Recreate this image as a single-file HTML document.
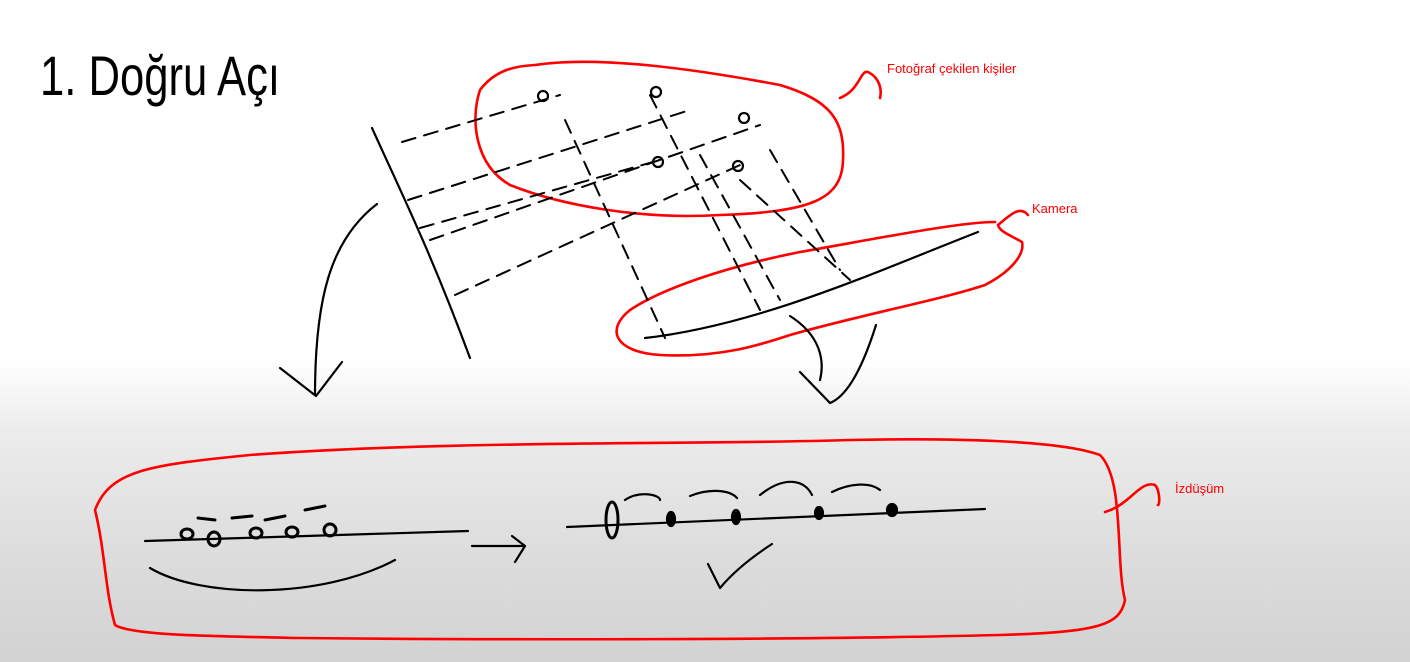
<!DOCTYPE html>
<html><head><meta charset="utf-8"><style>
html,body{margin:0;padding:0;width:1410px;height:662px;overflow:hidden;}
body{background:linear-gradient(to bottom,#fff 0px,#fff 360px,#ececec 430px,#dcdcdc 560px,#d2d2d2 662px);}
svg{position:absolute;left:0;top:0;}
.k{fill:none;stroke:#000;stroke-width:2.2;stroke-linecap:round;stroke-linejoin:round;}
.d{fill:none;stroke:#000;stroke-width:2;stroke-dasharray:14 9;stroke-linecap:round;}
.r{fill:none;stroke:#f00;stroke-width:2.6;stroke-linecap:round;stroke-linejoin:round;}
.t{font-family:"Liberation Sans",sans-serif;fill:#f00;font-size:13px;}
</style></head><body>
<svg width="1410" height="662">
<text x="40" y="95" font-family="Liberation Sans, sans-serif" font-size="56" fill="#000" textLength="240" lengthAdjust="spacingAndGlyphs">1. Doğru Açı</text>

<path class="r" d="M535 65 C600 55 700 70 780 85 C830 100 845 120 843 160 C842 200 810 212 720 215 C640 220 560 205 510 185 C475 165 470 120 480 90 C495 70 515 66 535 65 Z M840 98 C860 90 860 70 868 72 C880 78 882 90 880 98"/>
<text class="t" x="887" y="73">Fotoğraf çekilen kişiler</text>

<path class="r" d="M995 222 C960 222 880 238 800 252 C720 268 660 290 630 310 C605 330 615 352 660 355 C720 358 760 345 790 335 C860 315 940 300 985 285 C1010 272 1025 255 1022 242 C1010 235 1000 232 998 225 C1010 215 1020 205 1028 215"/>
<text class="t" x="1032" y="213">Kamera</text>

<path class="r" d="M95 510 C110 470 150 465 250 455 C450 440 700 445 850 440 C950 438 1060 440 1100 455 C1125 480 1115 560 1125 600 C1120 625 1100 632 1000 635 C800 640 500 640 300 638 C200 636 130 635 115 625 C105 590 105 550 95 510 Z M1105 512 C1130 505 1140 480 1155 485 C1160 490 1160 505 1158 505"/>
<text class="t" x="1175" y="493">İzdüşüm</text>

<path class="k" d="M372 128 C400 190 430 250 470 358"/>
<path class="d" d="M402 142 L560 95 M408 200 L690 110 M430 240 L760 125 M420 228 L660 160 M455 295 L740 165"/>
<path class="d" d="M565 120 L665 338 M650 95 L760 310 M700 155 L780 300 M740 180 L850 280 M770 150 L840 270"/>
<g class="k">
<circle cx="543" cy="96" r="5"/><circle cx="656" cy="92" r="5"/><circle cx="744" cy="118" r="5"/><circle cx="658" cy="162" r="5"/><circle cx="738" cy="166" r="5"/>
</g>
<path class="k" d="M645 338 C760 325 880 270 978 232"/>
<path class="k" d="M377 204 C330 240 315 300 315 395 M280 368 L316 396 L342 362"/>
<path class="k" d="M790 316 C820 335 825 360 820 380 M876 325 C865 360 850 395 830 403 L800 372"/>

<path class="k" d="M145 541 L468 531 M150 568 C200 598 320 600 395 560"/>
<g class="k" style="stroke-width:3">
<ellipse cx="187" cy="534" rx="6" ry="5"/><ellipse cx="214" cy="539" rx="6" ry="7"/><ellipse cx="256" cy="533" rx="6" ry="5"/><ellipse cx="292" cy="532" rx="6" ry="5"/><ellipse cx="330" cy="530" rx="6" ry="6"/>
<path d="M198 518 L215 520 M232 518 L252 516 M265 520 L285 516 M305 510 L325 506"/>
</g>
<path class="k" d="M472 546 L525 546 M512 536 L525 546 L515 562"/>
<path class="k" d="M567 527 L985 509"/>
<g class="k">
<ellipse cx="612" cy="520" rx="6" ry="18" style="stroke-width:3"/><ellipse cx="671" cy="519" rx="4" ry="7" fill="#000"/><ellipse cx="736" cy="517" rx="4" ry="7" fill="#000"/><ellipse cx="819" cy="513" rx="4" ry="6" fill="#000"/><ellipse cx="892" cy="510" rx="5" ry="6" fill="#000"/>
<path d="M625 500 C640 490 660 495 660 500 M690 496 C710 488 730 490 737 498 M760 495 C785 475 805 480 812 495 M832 492 C850 483 870 482 880 490"/>
</g>
<path class="k" d="M708 564 L720 588 C735 570 755 555 772 544"/>
</svg>
</body></html>
